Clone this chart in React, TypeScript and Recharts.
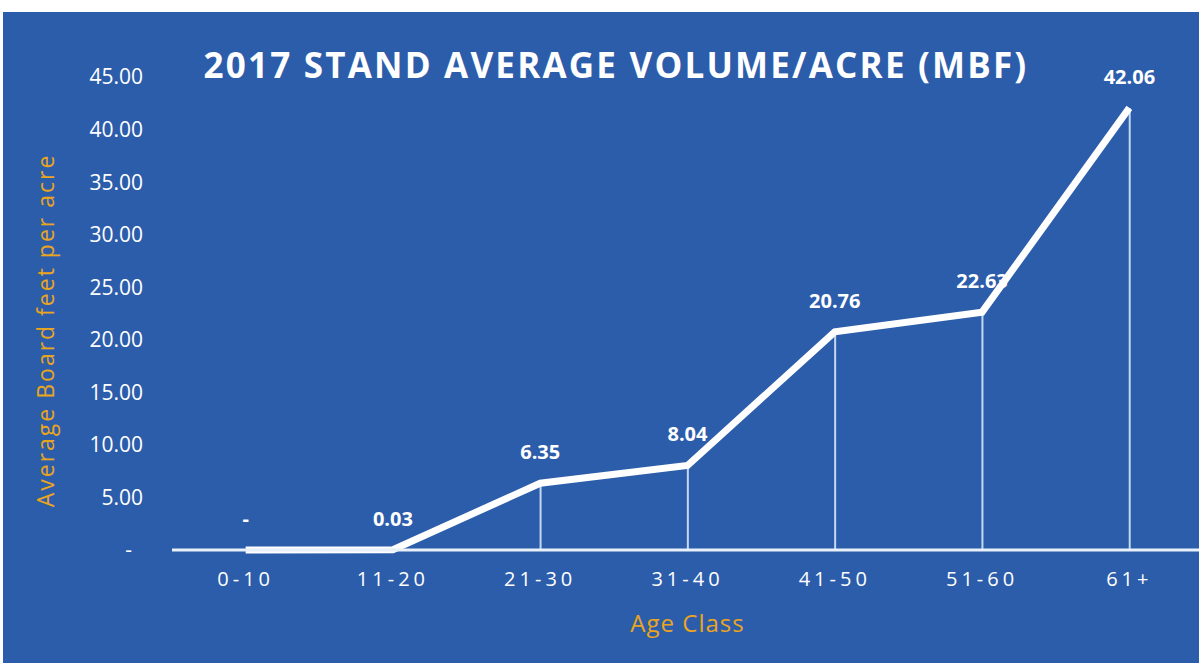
import { ComposedChart, Line, Bar, XAxis, YAxis, LabelList, Label } from "recharts";

// Age classes and stand average volume (MBF per acre)
const ageClasses = ["0-10", "11-20", "21-30", "31-40", "41-50", "51-60", "61+"];
const volumes = [0, 0.03, 6.35, 8.04, 20.76, 22.63, 42.06];
const yTicks = [0, 5, 10, 15, 20, 25, 30, 35, 40, 45];

const data = ageClasses.map((age, i) => ({ age, volume: volumes[i] }));

const BLUE = "#2c5dab";
const ORANGE = "#eaa520";
const FONT = "'Open Sans', 'Noto Sans', sans-serif";

const fmt = (v: number) => (v === 0 ? "-" : v.toFixed(2));
// zero tick is drawn as an accounting-style dash, padded from the right
const tickFmt = (v: number) => (v === 0 ? "-\u00a0\u00a0" : v.toFixed(2));

export default function App() {
  return (
    <div style={{ position: "relative", width: 1199, height: 663, overflow: "hidden", background: "#fff", fontFamily: FONT }}>
      <style>{`body{margin:0}`}</style>
      <div style={{ position: "absolute", left: 3, top: 12, right: 0, bottom: 0, background: BLUE }} />
      <div
        style={{
          position: "absolute",
          left: 0,
          top: 40,
          width: 1232,
          textAlign: "center",
          color: "#fff",
          fontWeight: 700,
          fontSize: 35,
          letterSpacing: 2.2,
          lineHeight: "50px",
        }}
      >
        2017 STAND AVERAGE VOLUME/ACRE (MBF)
      </div>
      <div style={{ position: "absolute", left: 0, top: 0 }}>
        <ComposedChart width={1210} height={663} data={data} margin={{ top: 77, right: 7, bottom: 0, left: 0 }}>
          <XAxis
            dataKey="age"
            height={113}
            axisLine={{ stroke: "#e8f0fa", strokeWidth: 3 }}
            tickLine={false}
            tickSize={0}
            tickMargin={22}
            tick={{ fill: "#fff", fontSize: 20, letterSpacing: 4 }}
          >
            <Label
              value="Age Class"
              position="insideBottom"
              offset={31}
              style={{ fill: ORANGE, fontSize: 24, letterSpacing: 1, fontFamily: FONT }}
            />
          </XAxis>
          <YAxis
            domain={[0, 45]}
            ticks={yTicks}
            width={172}
            axisLine={false}
            tickLine={false}
            tickSize={0}
            tickMargin={29}
            tickFormatter={tickFmt}
            tick={{ fill: "#fff", fontSize: 21 }}
          >
            <Label
              content={({ viewBox }: any) => {
                const cx = viewBox.x + 45;
                const cy = viewBox.y + viewBox.height / 2 + 17;
                return (
                  <text
                    x={cx}
                    y={cy}
                    transform={`rotate(-90 ${cx} ${cy})`}
                    textAnchor="middle"
                    dominantBaseline="central"
                    fill={ORANGE}
                    fontSize={23}
                    letterSpacing={2}
                    fontFamily={FONT}
                  >
                    Average Board feet per acre
                  </text>
                );
              }}
            />
          </YAxis>
          <Bar dataKey="volume" barSize={2} fill="#c4d8f0" isAnimationActive={false} />
          <Line
            type="linear"
            dataKey="volume"
            stroke="#fff"
            strokeWidth={7}
            dot={false}
            activeDot={false}
            isAnimationActive={false}
          >
            <LabelList
              dataKey="volume"
              position="top"
              offset={24}
              formatter={(v: any) => fmt(Number(v))}
              style={{ fill: "#fff", fontSize: 20, fontWeight: 700, fontFamily: FONT }}
            />
          </Line>
        </ComposedChart>
      </div>
    </div>
  );
}
